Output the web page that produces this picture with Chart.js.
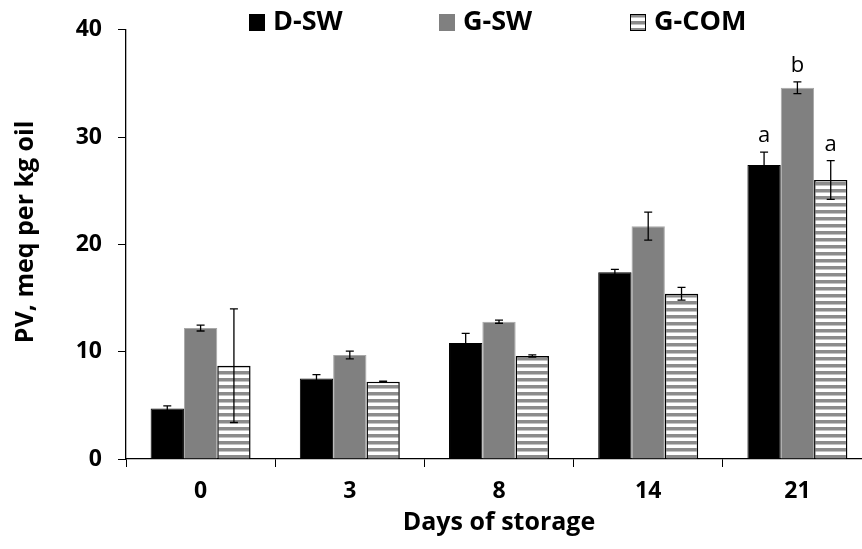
<!DOCTYPE html>
<html>
<head>
<meta charset="utf-8">
<script src="https://cdn.jsdelivr.net/npm/chart.js@4"></script>
<style>
  html, body { margin: 0; padding: 0; background: #fff; overflow: hidden; }
  #wrap { position: absolute; left: 0; top: 0; width: 872px; height: 549px; }
</style>
</head>
<body>
<div id="wrap"><canvas id="chart"></canvas></div>
<script>
"use strict";

const days = ["0", "3", "8", "14", "21"];
const dswValues = [4.7, 7.5, 10.8, 17.4, 27.4];
const dswErrors = [0.25, 0.37, 0.9, 0.28, 1.2];
const gswValues = [12.2, 9.7, 12.8, 21.7, 34.6];
const gswErrors = [0.27, 0.36, 0.15, 1.3, 0.55];
const gcomValues = [8.7, 7.2, 9.6, 15.4, 26.0];
const gcomErrors = [5.3, 0.05, 0.1, 0.6, 1.8];
const dswLetters = ["", "", "", "", "a"];
const gswLetters = ["", "", "", "", "b"];
const gcomLetters = ["", "", "", "", "a"];
const yTicks = [0, 10, 20, 30, 40];

const FONT = "'Open Sans', 'DejaVu Sans', sans-serif";

// Horizontal gray/white stripes for G-COM.
function stripes() {
  const c = document.createElement("canvas");
  c.width = 4; c.height = 7;
  const g = c.getContext("2d");
  g.fillStyle = "#ffffff"; g.fillRect(0, 0, 4, 7);
  g.fillStyle = "#8c8c8c"; g.fillRect(0, 0, 4, 3);
  g.fillStyle = "#c4c4c4"; g.fillRect(0, 3, 4, 1);
  return g.createPattern(c, "repeat");
}
const stripePattern = stripes();

const errorBars = {
  id: "errorBars",
  afterDatasetsDraw(chart) {
    const ctx = chart.ctx;
    const y = chart.scales.y;
    ctx.save();
    chart.data.datasets.forEach((ds, i) => {
      const meta = chart.getDatasetMeta(i);
      meta.data.forEach((bar, j) => {
        const v = ds.data[j], e = ds.errors[j];
        const top = y.getPixelForValue(v + e);
        const bot = y.getPixelForValue(v - e);
        ctx.strokeStyle = "#000";
        ctx.lineWidth = 1.3;
        ctx.beginPath();
        ctx.moveTo(bar.x, top); ctx.lineTo(bar.x, bot);
        ctx.moveTo(bar.x - 4, top); ctx.lineTo(bar.x + 4, top);
        ctx.moveTo(bar.x - 4, bot); ctx.lineTo(bar.x + 4, bot);
        ctx.stroke();
        if (ds.letters[j]) {
          ctx.fillStyle = "#000";
          ctx.font = "22px " + FONT;
          ctx.textAlign = "center";
          ctx.textBaseline = "alphabetic";
          ctx.fillText(ds.letters[j], bar.x, top - 10);
        }
      });
    });
    ctx.restore();
  },
};

// Legend drawn across the top, overlapping the plot like the original.
const topLegend = {
  id: "topLegend",
  afterDraw(chart) {
    const ctx = chart.ctx;
    const starts = [249, 439, 630];
    ctx.save();
    ctx.font = "bold 27px " + FONT;
    ctx.textBaseline = "middle";
    ctx.textAlign = "left";
    chart.data.datasets.forEach((ds, i) => {
      const x = starts[i];
      ctx.fillStyle = ds.backgroundColor;
      ctx.fillRect(x, 14, 16, 17);
      if (ds.borderColor === "#000") {
        ctx.strokeStyle = "#000";
        ctx.lineWidth = 1;
        ctx.strokeRect(x + 0.5, 14.5, 15, 16);
      }
      ctx.fillStyle = "#000";
      ctx.fillText(ds.label, x + 24, 22);
    });
    ctx.restore();
  },
};

new Chart(document.getElementById("chart"), {
  type: "bar",
  data: {
    labels: days,
    datasets: [
      { label: "D-SW", data: dswValues, errors: dswErrors, letters: dswLetters,
        backgroundColor: "#000000", borderColor: "#000", borderWidth: 1 },
      { label: "G-SW", data: gswValues, errors: gswErrors, letters: gswLetters,
        backgroundColor: "#808080", borderColor: "#a8a8a8", borderWidth: 1 },
      { label: "G-COM", data: gcomValues, errors: gcomErrors, letters: gcomLetters,
        backgroundColor: stripePattern, borderColor: "#000", borderWidth: 1.5 },
    ],
  },
  options: {
    responsive: true,
    maintainAspectRatio: false,
    animation: false,
    layout: { padding: { top: 29, right: 0, left: 0, bottom: 0 } },
    plugins: { legend: { display: false }, tooltip: { enabled: false } },
    datasets: { bar: { categoryPercentage: 0.67, barPercentage: 1.0 } },
    scales: {
      x: {
        grid: { display: true, drawOnChartArea: false, offset: true, tickLength: 8, color: "#000" },
        border: { display: true, color: "#000", width: 1.3 },
        ticks: { color: "#000", font: { family: FONT, size: 23, weight: "bold" }, padding: 11, maxRotation: 0 },
        title: { display: true, text: "Days of storage", color: "#000",
                 font: { family: FONT, size: 25, weight: "bold" }, padding: { top: 0, bottom: 11 } },
        afterFit(s) { s.height = 90; },
      },
      y: {
        min: 0, max: 40,
        afterBuildTicks(s) { s.ticks = yTicks.map((v) => ({ value: v })); },
        grid: { display: true, drawOnChartArea: false, tickLength: 8, color: "#000" },
        border: { display: true, color: "#000", width: 1.3 },
        ticks: { color: "#000", font: { family: FONT, size: 23, weight: "bold" }, padding: 16 },
        title: { display: true, text: "\u2003PV, meq per kg oil", color: "#000",
                 font: { family: FONT, size: 25, weight: "bold" }, padding: { top: 11, bottom: 0 } },
        afterFit(s) { s.width = 126; },
      },
    },
  },
  plugins: [errorBars, topLegend],
});
</script>
</body>
</html>
